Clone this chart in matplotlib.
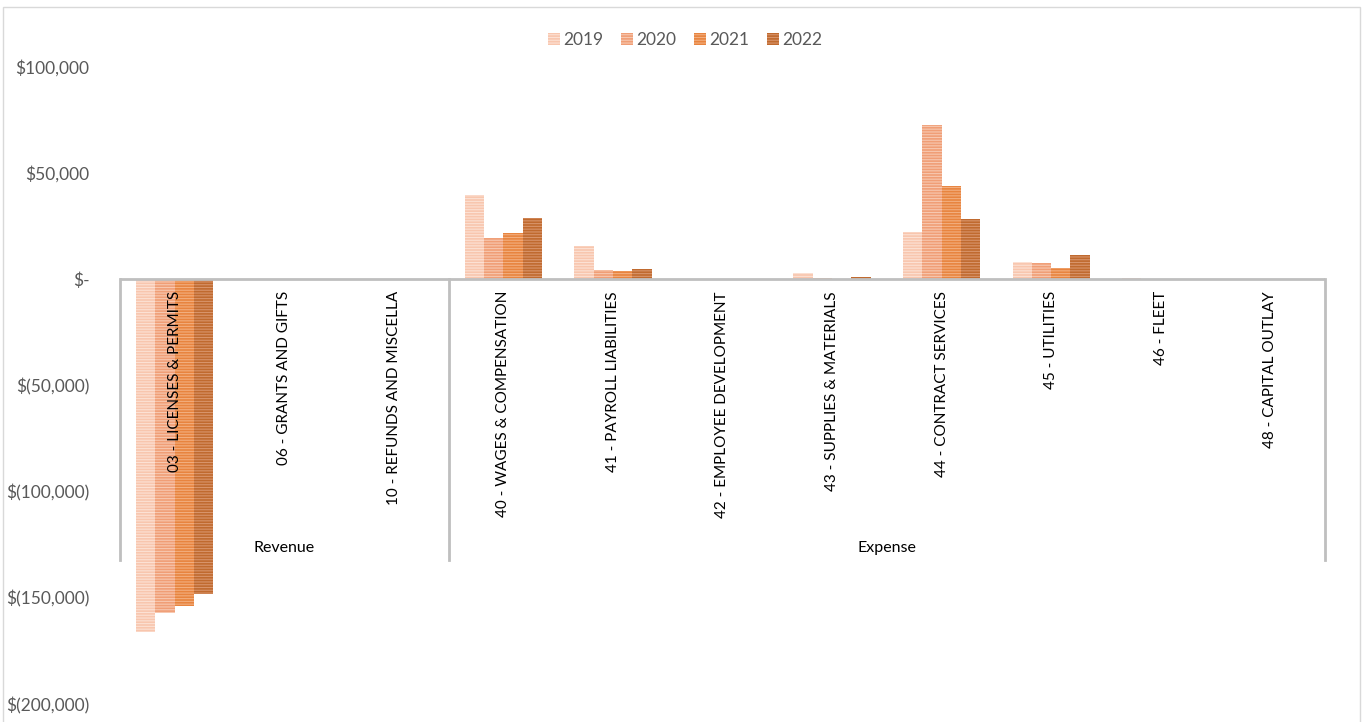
import numpy as np
import matplotlib.pyplot as plt
from matplotlib.patches import Rectangle
from matplotlib.ticker import FuncFormatter

categories = ['03 - LICENSES & PERMITS', '06 - GRANTS AND GIFTS', '10 - REFUNDS AND MISCELLA',
              '40 - WAGES & COMPENSATION', '41 - PAYROLL LIABILITIES', '42 - EMPLOYEE DEVELOPMENT',
              '43 - SUPPLIES & MATERIALS', '44 - CONTRACT SERVICES', '45 - UTILITIES',
              '46 - FLEET', '48 - CAPITAL OUTLAY']
groups = ['Revenue', 'Expense']
group_sizes = [3, 8]
years = ['2019', '2020', '2021', '2022']

v2019 = [-166000, 0, 0, 39600, 15600, 0, 2800, 22200, 8000, 600, 0]
v2020 = [-157000, 0, 0, 19300, 4200, 0, 700, 72600, 7500, 0, 0]
v2021 = [-154000, 0, 0, 21700, 4000, 0, 200, 43900, 5200, 0, 0]
v2022 = [-148000, 0, 0, 28800, 5000, 0, 1300, 28300, 11300, 0, 0]

colors = ['#F8C6AE', '#F09E76', '#E8843F', '#C06A2F']
stripes = ['#FCE1D4', '#F7C8B0', '#F2AE7E', '#D8946A']

plt.rcParams['font.family'] = ['Lato', 'DejaVu Sans']
plt.rcParams['hatch.linewidth'] = 0.8

fig = plt.figure(figsize=(13.62, 7.22), dpi=100)
ax = fig.add_axes([120 / 1362, 1 - 704 / 722, 1205 / 1362, 637 / 722])

x = np.arange(len(categories))
w = 0.176
for k, (vals, c, s, yr) in enumerate(zip([v2019, v2020, v2021, v2022], colors, stripes, years)):
    ax.bar(x + (k - 1.5) * w, vals, width=w, color=c, edgecolor=s, linewidth=0,
           hatch='------', label=yr)

ax.set_xlim(-0.5, len(categories) - 0.5)
ax.set_ylim(-200000, 100000)
ax.set_yticks([100000, 50000, 0, -50000, -100000, -150000, -200000])


def money(v, pos):
    if v == 0:
        return '$-'
    if v < 0:
        return '$({:,.0f})'.format(-v)
    return '${:,.0f}'.format(v)


ax.yaxis.set_major_formatter(FuncFormatter(money))
ax.tick_params(axis='y', length=0, pad=22, labelsize=12.5, labelcolor='#595959')
ax.set_xticks([])
for sp in ax.spines.values():
    sp.set_visible(False)

# category axis: zero line, group dividers and labels
ax.axhline(0, color='#BFBFBF', lw=2, zorder=3)
bounds = np.concatenate([[0], np.cumsum(group_sizes)]) - 0.5
for b in bounds:
    ax.plot([b, b], [0, -132000], color='#BFBFBF', lw=2, clip_on=False)
for i, name in enumerate(categories):
    ax.text(i, -5500, name, rotation=90, ha='center', va='top', fontsize=11, color='black')
for g, name in enumerate(groups):
    ax.text((bounds[g] + bounds[g + 1]) / 2, -126500, name, ha='center', va='center',
            fontsize=11.5, color='black')

fig.legend(loc='center', bbox_to_anchor=(685 / 1362, 1 - 40 / 722), ncol=4, frameon=False,
           handlelength=0.7, handleheight=0.7, handletextpad=0.2, columnspacing=1.0,
           fontsize=12.5, labelcolor='#595959')

fig.patches.append(Rectangle((3 / 1362, -0.01), 1357 / 1362, 1.01 - 7 / 722, fill=False,
                             edgecolor='#D9D9D9', lw=1, transform=fig.transFigure))

fig.savefig('out.png', dpi=100)
